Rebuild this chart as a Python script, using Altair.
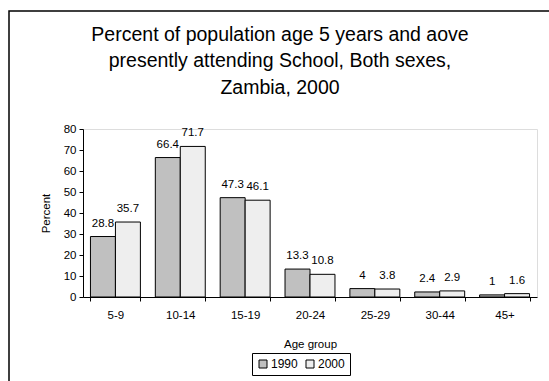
import altair as alt
import pandas as pd

groups = ["5-9", "10-14", "15-19", "20-24", "25-29", "30-44", "45+"]
v1990 = [28.8, 66.4, 47.3, 13.3, 4, 2.4, 1]
v2000 = [35.7, 71.7, 46.1, 10.8, 3.8, 2.9, 1.6]
years = ["1990", "2000"]
title_lines = ["Percent of population age 5 years and aove",
               "presently attending School, Both sexes,",
               "Zambia, 2000"]

rows = []
for g, a, b in zip(groups, v1990, v2000):
    rows.append({"group": g, "year": "1990", "value": a})
    rows.append({"group": g, "year": "2000", "value": b})
df = pd.DataFrame(rows)

FONT = "Liberation Sans"

xenc = alt.X("group:N", sort=groups, title="Age group",
             scale=alt.Scale(paddingInner=0.23, paddingOuter=0.115),
             axis=alt.Axis(labelAngle=0, tickBand="extent", domainColor="black",
                           tickColor="black", tickSize=4, labelColor="black",
                           labelFontSize=11.5, labelFont=FONT, labelPadding=8,
                           titleFont=FONT, titleFontSize=11.5, titleFontWeight="normal",
                           titleColor="black", titlePadding=18))
yenc = alt.Y("value:Q", title="Percent",
             scale=alt.Scale(domain=[0, 80], nice=False),
             axis=alt.Axis(values=list(range(0, 81, 10)), labelOverlap=False,
                           grid=False, domainColor="black",
                           tickColor="black", tickSize=4, labelColor="black",
                           labelFontSize=11.5, labelFont=FONT, labelPadding=3,
                           titleFont=FONT, titleFontSize=11.5, titleFontWeight="normal",
                           titleColor="black", titlePadding=12))

color = alt.Color("year:N", scale=alt.Scale(domain=years, range=["#C0C0C0", "#EEEEEE"]),
                  legend=alt.Legend(title=None, orient="none", legendX=169, legendY=224,
                                    direction="horizontal", columns=2,
                                    strokeColor="black", padding=5,
                                    symbolType="square", symbolSize=64,
                                    symbolStrokeColor="black", symbolStrokeWidth=1,
                                    labelFont=FONT, labelFontSize=12, labelColor="black",
                                    labelOffset=2, columnPadding=6))

bars = alt.Chart(df).mark_bar(stroke="black", strokeWidth=1).encode(
    x=xenc, y=yenc, xOffset=alt.XOffset("year:N", sort=years), color=color
)

labels = alt.Chart(df).mark_text(dy=-8, baseline="bottom", font=FONT, fontSize=11.5,
                                 color="black").encode(
    x=xenc,
    xOffset=alt.XOffset("year:N", sort=years),
    y=yenc,
    text=alt.Text("value:Q"),
)

frame = alt.Chart(df).mark_rect(fill=None, stroke="black", strokeWidth=1.5).encode(
    x=alt.value(-74), x2=alt.value(700), y=alt.value(-118), y2=alt.value(500)
).transform_filter("datum.group == '5-9' && datum.year == '1990'")

tdf = pd.DataFrame({"line": title_lines, "i": [0, 1, 2]})
title_layers = []
for i, ypos in enumerate([-88.5, -62, -35]):
    title_layers.append(
        alt.Chart(tdf).transform_filter(f"datum.i == {i}").mark_text(
            font=FONT, fontSize=19.5, color="black", baseline="alphabetic", align="center"
        ).encode(x=alt.value(197), y=alt.value(ypos), text="line:N")
    )

chart = alt.layer(frame, *title_layers, bars, labels).properties(
    width=454, height=168,
    autosize=alt.AutoSizeParams(type="none"),
    padding={"left": 83, "top": 129, "right": 12, "bottom": 84},
).configure_view(stroke=None).configure(background="white")

chart.save("out.html", embed_options={"renderer": "svg", "actions": False})
